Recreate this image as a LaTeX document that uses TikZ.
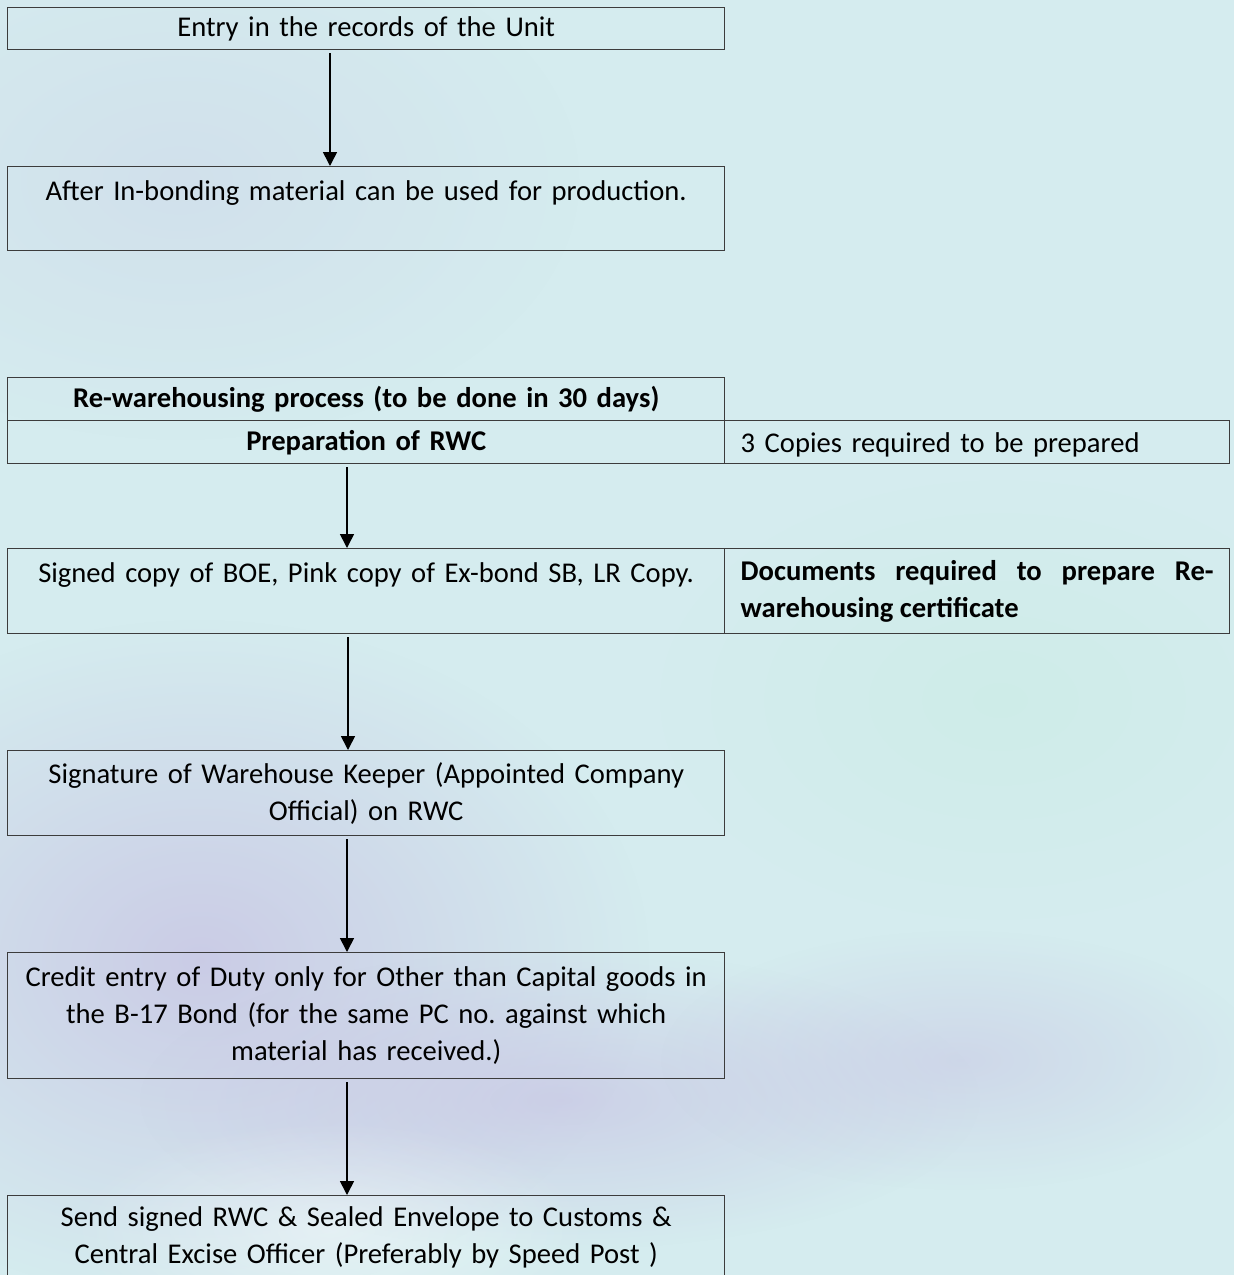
\documentclass[tikz,border=0pt]{standalone}
\usepackage{xcolor}
\usepackage{fontspec}
\setmainfont{Carlito}
\usetikzlibrary{arrows.meta,fadings}

\definecolor{fondo}{RGB}{213,236,239}
\definecolor{lila}{RGB}{198,190,226}
\definecolor{menta}{RGB}{200,236,226}
\definecolor{borde}{RGB}{60,60,60}

\tikzfading[name=difumino, inner color=transparent!0, outer color=transparent!100]

\tikzset{
    caja/.style={draw=borde, line width=0.7pt, anchor=north west,
        inner xsep=0pt, inner ysep=0pt, text width=358.5pt, align=center,
        minimum height=21pt, font=\fontsize{14.3}{18.5}\selectfont},
    cajader/.style={caja, inner xsep=8pt, text width=236.5pt},
    flecha/.style={-{Triangle[width=7pt,length=7pt]}, line width=0.8pt,
        shorten <=1.5pt}
}

\begin{document}
\frenchspacing
\begin{tikzpicture}[x=0.5pt,y=-0.5pt]
        % Paso 1: Fija el marco y el fondo de acuarela
        \useasboundingbox (0,0) rectangle (1234,1275);
        \clip (0,0) rectangle (1234,1275);
        \fill[fondo] (0,0) rectangle (1234,1275);
        \fill[lila, path fading=difumino, fill opacity=0.7]
            (200,960) ellipse [x radius=450, y radius=340];
        \fill[lila, path fading=difumino, fill opacity=0.6]
            (560,1100) ellipse [x radius=420, y radius=150];
        \fill[lila, path fading=difumino, fill opacity=0.45]
            (960,1060) ellipse [x radius=300, y radius=130];
        \fill[lila, path fading=difumino, fill opacity=0.25]
            (180,180) ellipse [x radius=400, y radius=260];
        \fill[menta, path fading=difumino, fill opacity=0.5]
            (1000,700) ellipse [x radius=340, y radius=220];
        \fill[white, path fading=difumino, fill opacity=0.4]
            (330,1230) ellipse [x radius=260, y radius=110];

        % Paso 2: Define las cajas de la primera parte
        \node[caja] (entrada) at (7,7) {Entry in the records of the Unit};
        \node[caja, minimum height=42pt] (despues) at (7,166)
            {After In-bonding material can be used for production.\\ \mbox{}};

        % Paso 3: Define las cajas del re-almacenaje
        \node[caja, minimum height=21.5pt, font=\fontsize{14.3}{18.5}\selectfont\bfseries]
            (proceso) at (7,377) {Re-warehousing process (to be done in 30 days)};
        \node[caja, minimum height=21.5pt, font=\fontsize{14.3}{18.5}\selectfont\bfseries]
            (preparacion) at (7,420) {Preparation of RWC};
        \node[cajader, minimum height=21.5pt, align=left, text depth=-5pt]
            (copias) at (724,420) {3 Copies required to be prepared};

        \node[caja, minimum height=42.5pt] (firmado) at (7,548)
            {Signed copy of BOE, Pink copy of Ex-bond SB, LR Copy.\\ \mbox{}};
        \node[cajader, minimum height=42.5pt, align=justify,
            font=\fontsize{14.3}{18.5}\selectfont\bfseries] (documentos) at (724,548)
            {Documents required to prepare Re-\linebreak warehousing certificate};

        \node[caja, minimum height=42.5pt] (firma) at (7,750)
            {Signature of Warehouse Keeper (Appointed Company\\ Official) on RWC};
        \node[caja, minimum height=63pt] (credito) at (7,952)
            {Credit entry of Duty only for Other than Capital goods in\\
             the B-17 Bond (for the same PC no. against which\\
             material has received.)};
        \node[caja, minimum height=42pt] (envio) at (7,1195)
            {Send signed RWC \& Sealed Envelope to Customs \&\\
             Central Excise Officer (Preferably by Speed Post )};

        % Paso 4: Dibuja las flechas entre cajas
        \draw[flecha] ([xshift=161.5pt]entrada.south west)
            -- ([xshift=161.5pt]despues.north west);
        \draw[flecha] ([xshift=170pt]preparacion.south west)
            -- ([xshift=170pt]firmado.north west);
        \draw[flecha] ([xshift=170.5pt]firmado.south west)
            -- ([xshift=170.5pt]firma.north west);
        \draw[flecha] ([xshift=170pt]firma.south west)
            -- ([xshift=170pt]credito.north west);
        \draw[flecha] ([xshift=170pt]credito.south west)
            -- ([xshift=170pt]envio.north west);
    \end{tikzpicture}
\end{document}
